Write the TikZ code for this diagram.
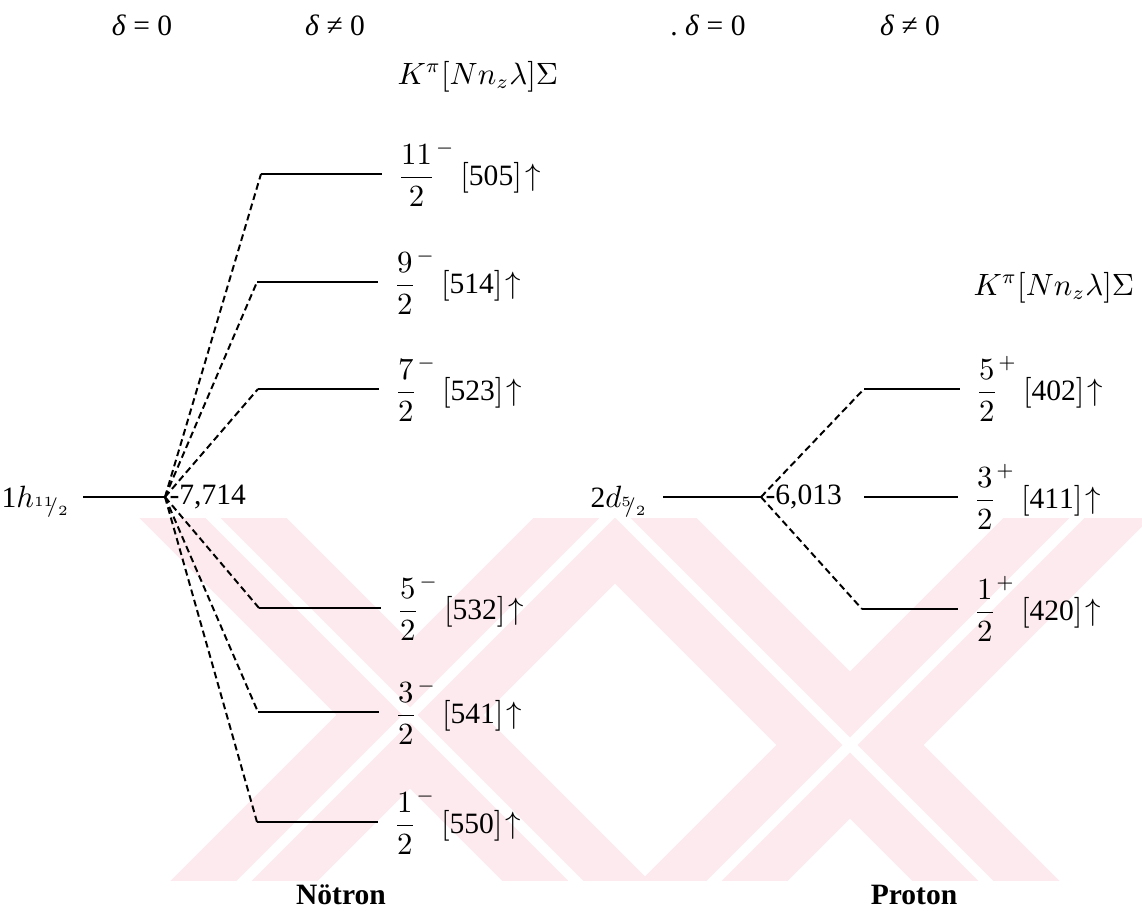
\documentclass[tikz,border=0pt]{standalone}
\usepackage{fontspec}
\setmainfont{Liberation Serif}
\usepackage{tikz}
\usetikzlibrary{positioning}
\definecolor{wmark}{RGB}{253,234,238}
\tikzstyle{level} = [
line width=0.7pt,
draw=black
]
\tikzstyle{link} = [
line width=0.7pt,
dash pattern=on 2.4pt off 1.4pt,
draw=black
]
\tikzstyle{orbit} = [
anchor=west,
inner sep=0pt,
xshift=0.19cm
]
\tikzstyle{head} = [
inner sep=0pt
]
\tikzstyle{band} = [
draw=wmark,
line width=1.3cm
]
\tikzstyle{gap} = [
draw=white,
line width=0.13cm
]
\newcommand{\lev}[3]{$\displaystyle\frac{#1\rlap{$^{\,#2}$}}{2}$\hspace{0.85em}$\bigl[\mathrm{#3}\bigr]\!\uparrow$}

\begin{document}
\begin{tikzpicture}[x=0.0125cm, y=-0.0125cm, font=\fontsize{10.5}{12.6}\selectfont]
			\useasboundingbox (0,0) rectangle (1142,919);
			
			% watermark
			\begin{scope}
			\clip (0,518) rectangle (1142,880);
			\draw [band] (10,315) -- (810,1115);
			\draw [band] (10,1115) -- (810,315);
			\draw [band] (450,345) -- (1250,1145);
			\draw [band] (450,1145) -- (1250,345);
			\draw [gap] (10,315) -- (810,1115);
			\draw [gap] (10,1115) -- (810,315);
			\draw [gap] (450,345) -- (1250,1145);
			\draw [gap] (450,1145) -- (1250,345);
			\end{scope}
			
			% headers
			\node (h1) [head] at (142,25) {\textit{δ} = 0};
			\node (h2) [head] at (335,25) {\textit{δ} ≠ 0};
			\node (h3) [head] at (708,25) {.~\textit{δ} = 0};
			\node (h4) [head] at (910,25) {\textit{δ} ≠ 0};
			\node (kn) [head, anchor=west] at (397,76) {$K^{\pi}\bigl[Nn_{z}\lambda\bigr]\Sigma$};
			\node (kp) [head, anchor=west] at (973,287) {$K^{\pi}\bigl[Nn_{z}\lambda\bigr]\Sigma$};
			
			% neutron 1h11/2
			\coordinate (nl) at (83,497);
			\coordinate (nv) at (165,497);
			\node (nname) [head, anchor=west] at (1,502) {1$h_{{}^{11}\!\!/_{2}}$};
			\node (nen) [head, anchor=west] at (169,497) {-7,714};
			\coordinate (n1a) at (261,174);
			\coordinate (n1b) at (382,174);
			\coordinate (n2a) at (257,282);
			\coordinate (n2b) at (378,282);
			\coordinate (n3a) at (258,389);
			\coordinate (n3b) at (379,389);
			\coordinate (n4a) at (259,608);
			\coordinate (n4b) at (381,608);
			\coordinate (n5a) at (258,712);
			\coordinate (n5b) at (379,712);
			\coordinate (n6a) at (257,822);
			\coordinate (n6b) at (378,822);
			\node (l1) [orbit] at (n1b) {\lev{11}{-}{505}};
			\node (l2) [orbit] at (n2b) {\lev{9}{-}{514}};
			\node (l3) [orbit] at (n3b) {\lev{7}{-}{523}};
			\node (l4) [orbit] at (n4b) {\lev{5}{-}{532}};
			\node (l5) [orbit] at (n5b) {\lev{3}{-}{541}};
			\node (l6) [orbit] at (n6b) {\lev{1}{-}{550}};
			\draw [level] (nl) -- (nv);
			\draw [link] (nv) -- (n1a);
			\draw [link] (nv) -- (n2a);
			\draw [link] (nv) -- (n3a);
			\draw [link] (nv) -- (n4a);
			\draw [link] (nv) -- (n5a);
			\draw [link] (nv) -- (n6a);
			\draw [level] (n1a) -- (n1b);
			\draw [level] (n2a) -- (n2b);
			\draw [level] (n3a) -- (n3b);
			\draw [level] (n4a) -- (n4b);
			\draw [level] (n5a) -- (n5b);
			\draw [level] (n6a) -- (n6b);
			
			% proton 2d5/2
			\coordinate (pl) at (663,497);
			\coordinate (pv) at (761,497);
			\node (pname) [head, anchor=west] at (590,502) {2$d_{{}^{5}\!\!/_{2}}$};
			\node (pen) [head, anchor=west] at (765,497) {-6,013};
			\coordinate (p1a) at (864,389);
			\coordinate (p1b) at (960,389);
			\coordinate (p2a) at (864,497);
			\coordinate (p2b) at (958,497);
			\coordinate (p3a) at (862,609);
			\coordinate (p3b) at (958,609);
			\node (r1) [orbit] at (p1b) {\lev{5}{+}{402}};
			\node (r2) [orbit] at (p2b) {\lev{3}{+}{411}};
			\node (r3) [orbit] at (p3b) {\lev{1}{+}{420}};
			\draw [level] (pl) -- (pv);
			\draw [link] (pv) -- (p1a);
			\draw [link] (pv) -- (p3a);
			\draw [level] (p1a) -- (p1b);
			\draw [level] (p2a) -- (p2b);
			\draw [level] (p3a) -- (p3b);
			
			% footers
			\node (fn) [head] at (341,895) {\textbf{Nötron}};
			\node (fp) [head] at (914,895) {\textbf{Proton}};
			
		\end{tikzpicture}
\end{document}
